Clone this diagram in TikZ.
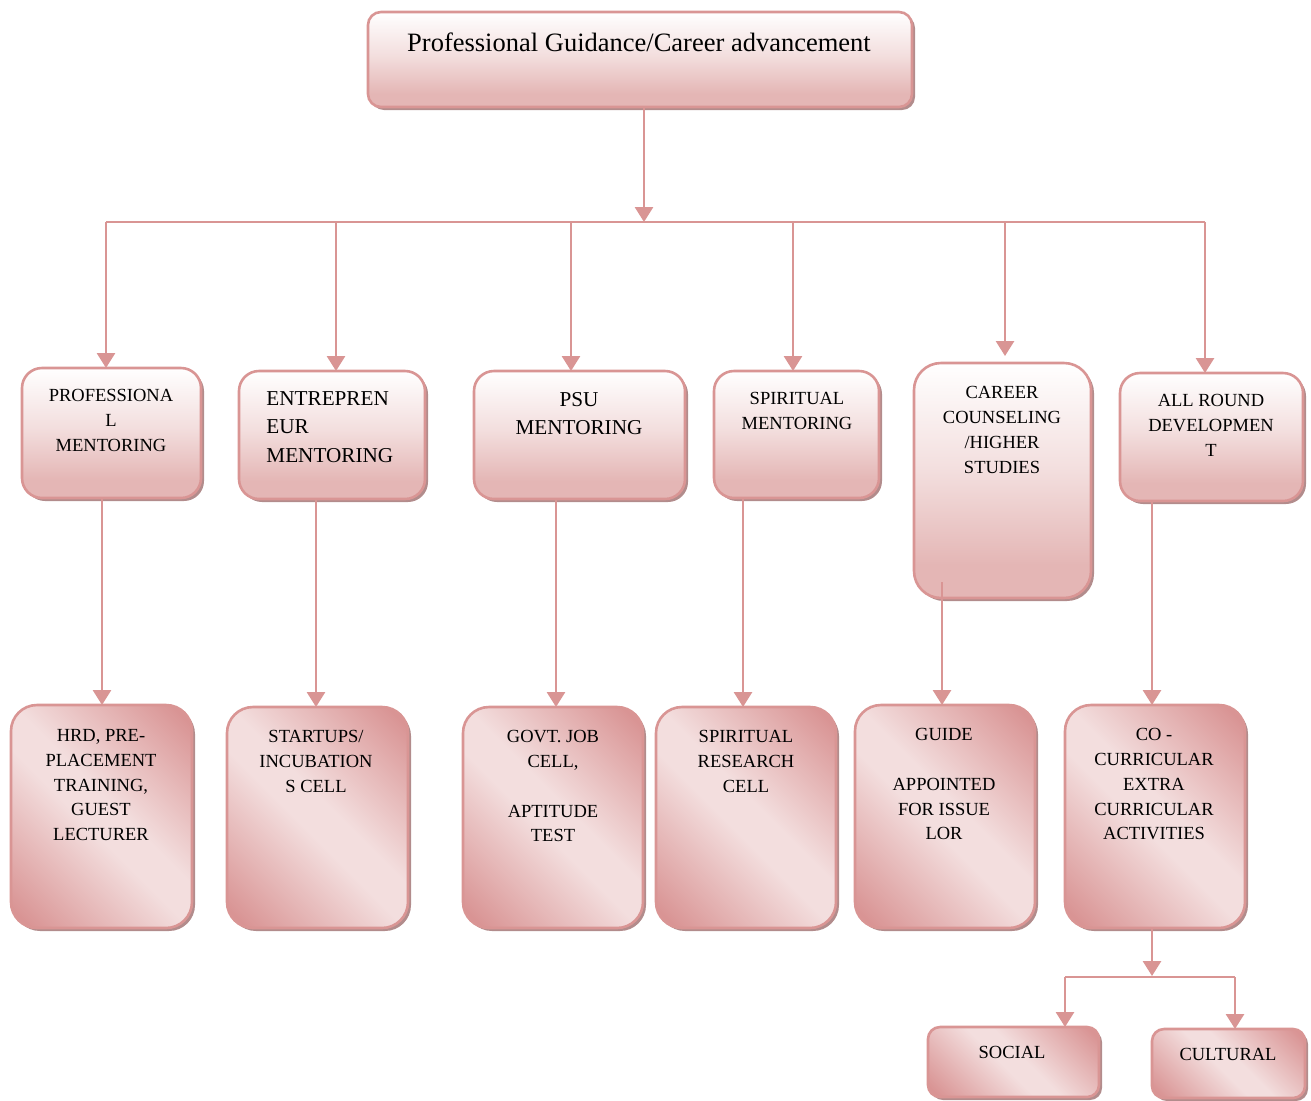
\documentclass[tikz,border=0pt]{standalone}
\usepackage{fontspec}
\setmainfont{Liberation Serif}
\usetikzlibrary{arrows.meta,shadows}
\definecolor{rim}{RGB}{217,149,148}
\definecolor{pinkB}{RGB}{228,182,181}
\colorlet{pinkM}{pinkB!45!white}
\definecolor{pinkD}{RGB}{217,148,148}
\definecolor{pinkL}{RGB}{243,222,222}
\definecolor{shadowc}{RGB}{178,140,140}
\pgfdeclareverticalshading{fadedown}{100bp}{color(0bp)=(pinkB); color(25bp)=(pinkB); color(32bp)=(pinkB); color(52bp)=(pinkM); color(75bp)=(white); color(100bp)=(white)}
\pgfdeclareverticalshading{diagfade}{100bp}{color(0bp)=(pinkD); color(18bp)=(pinkD); color(46bp)=(pinkL); color(54bp)=(pinkL); color(82bp)=(pinkD); color(100bp)=(pinkD)}
\tikzset{
 boxbase/.style={draw=rim, line width=1.3pt, inner sep=0pt, outer sep=0pt,
   drop shadow={shadow xshift=1.5pt, shadow yshift=-1.5pt, fill=shadowc, opacity=1}},
 upbox/.style={boxbase, shading=fadedown},
 lowbox/.style={boxbase, shading=diagfade, shading angle=-45},
 conn/.style={draw=rim, line width=1.4pt},
 arr/.style={conn, -{Triangle[width=9pt,length=7.5pt]}},
 lbl/.style={inner sep=0pt, align=center, anchor=north, font=\fontsize{9.25}{12.4}\selectfont},
 biglbl/.style={inner sep=0pt, anchor=north, font=\fontsize{10.6}{14.2}\selectfont},
}
\newcommand\mybox[7]{%
 \node[#6, rounded corners=#7, minimum width={(#4-#2)*0.5pt}, minimum height={(#5-#3)*0.5pt}] (#1) at ({(#2+#4)/2},{(#3+#5)/2}) {};}
\begin{document}
\begin{tikzpicture}[x=0.5pt,y=-0.5pt]
\useasboundingbox (0,0) rectangle (1311,1100);
% boxes
\mybox{top}{368}{12}{912}{107}{upbox}{6.5pt}
\mybox{m1}{22}{368}{201}{498}{upbox}{10pt}
\mybox{m2}{239}{371}{425}{499}{upbox}{10pt}
\mybox{m3}{474}{371}{685}{499}{upbox}{10pt}
\mybox{m4}{714}{371}{879}{498}{upbox}{10pt}
\mybox{m5}{914}{363}{1091}{598}{upbox}{13.5pt}
\mybox{m6}{1120}{373}{1303}{501}{upbox}{10pt}
\mybox{b1}{11}{705}{192}{928}{lowbox}{13pt}
\mybox{b2}{227}{707}{408}{928}{lowbox}{13pt}
\mybox{b3}{463}{707}{643}{928}{lowbox}{13pt}
\mybox{b4}{656}{707}{836}{928}{lowbox}{13pt}
\mybox{b5}{855}{705}{1035}{928}{lowbox}{13pt}
\mybox{b6}{1065}{705}{1245}{928}{lowbox}{13pt}
\mybox{soc}{928}{1027}{1099}{1097}{lowbox}{6pt}
\mybox{cul}{1152}{1029}{1305}{1098}{lowbox}{6pt}
% texts
\node[inner sep=0pt, anchor=base, font=\fontsize{13.25}{16}\selectfont] (ttop) at (639,51) {Professional Guidance/Career advancement};
\node[lbl] (tm1) at (111,389) {PROFESSIONA\\L\\MENTORING};
\node[biglbl, anchor=north west, align=left] (tm2) at (266,391) {ENTREPREN\\EUR\\MENTORING};
\node[biglbl, align=center] (tm3) at (579,392) {PSU\\MENTORING};
\node[lbl] (tm4) at (797,392) {SPIRITUAL\\MENTORING};
\node[lbl] (tm5) at (1002,386) {CAREER\\COUNSELING\\/HIGHER\\STUDIES};
\node[lbl] (tm6) at (1211,394) {ALL ROUND\\DEVELOPMEN\\T};
\node[lbl] (tb1) at (101,729) {HRD, PRE-\\PLACEMENT\\TRAINING,\\GUEST\\LECTURER};
\node[lbl] (tb2) at (316,730) {STARTUPS/\\INCUBATION\\S CELL};
\node[lbl] (tb3) at (553,730) {GOVT. JOB\\CELL,\\[12.4pt]APTITUDE\\TEST};
\node[lbl] (tb4) at (746,730) {SPIRITUAL\\RESEARCH\\CELL};
\node[lbl] (tb5) at (944,728) {GUIDE\\[12.4pt]APPOINTED\\FOR ISSUE\\LOR};
\node[lbl] (tb6) at (1154,728) {CO -\\CURRICULAR\\EXTRA\\CURRICULAR\\ACTIVITIES};
\node[lbl] (tsoc) at (1012,1046) {SOCIAL};
\node[lbl] (tcul) at (1228,1048) {CULTURAL};
% connector coordinates
\coordinate (hub) at (644,222);
\coordinate (t1) at (106,222);
\coordinate (t2) at (336,222);
\coordinate (t3) at (571,222);
\coordinate (t4) at (793,222);
\coordinate (t5) at (1005,222);
\coordinate (t6) at (1205,222);
\coordinate (d1) at (102,0);
\coordinate (d2) at (316,0);
\coordinate (d3) at (556,0);
\coordinate (d4) at (743,0);
\coordinate (d5) at (942,0);
\coordinate (d6) at (1152,0);
\coordinate (hub2) at (1152,976);
\coordinate (s1) at (1065,977);
\coordinate (s2) at (1235,977);
% connectors
\draw[arr] (hub |- top.south) -- (hub);
\draw[conn] (t1) -- (t6);
\draw[arr] (t1) -- (t1 |- m1.north);
\draw[arr] (t2) -- (t2 |- m2.north);
\draw[arr] (t3) -- (t3 |- m3.north);
\draw[arr] (t4) -- (t4 |- m4.north);
\draw[arr, shorten >=3.5pt] (t5) -- (t5 |- m5.north);
\draw[arr] (t6) -- (t6 |- m6.north);
\draw[arr] (d1 |- m1.south) -- (d1 |- b1.north);
\draw[arr] (d2 |- m2.south) -- (d2 |- b2.north);
\draw[arr] (d3 |- m3.south) -- (d3 |- b3.north);
\draw[arr] (d4 |- m4.south) -- (d4 |- b4.north);
\draw[arr, shorten <=-8pt] (d5 |- m5.south) -- (d5 |- b5.north);
\draw[arr] (d6 |- m6.south) -- (d6 |- b6.north);
\draw[arr] (d6 |- b6.south) -- (hub2);
\draw[conn] (s1) -- (s2);
\draw[arr] (s1) -- (s1 |- soc.north);
\draw[arr] (s2) -- (s2 |- cul.north);
\end{tikzpicture}
\end{document}
